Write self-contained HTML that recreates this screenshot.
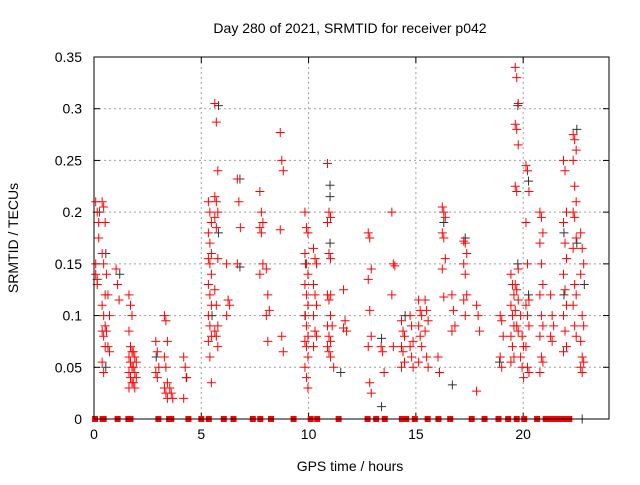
<!DOCTYPE html>
<html><head><meta charset="utf-8"><style>
body{margin:0;background:#fff;}
svg text{font-family:"Liberation Sans",sans-serif;fill:#000;}
</style></head><body>
<svg id="chart" width="640" height="480" viewBox="0 0 640 480" xmlns="http://www.w3.org/2000/svg">
<rect width="640" height="480" fill="#fff"/>
<text x="350" y="33" text-anchor="middle" font-size="14">Day 280 of 2021, SRMTID for receiver p042</text>
<text x="350" y="471" text-anchor="middle" font-size="14">GPS time / hours</text>
<text transform="translate(18,238) rotate(-90)" text-anchor="middle" font-size="14">SRMTID / TECUs</text>
<g id="grid"></g>
<g id="ticks"></g>
<g id="black-series"></g>
<g id="red-series"></g>
<rect x="94" y="57" width="515" height="362" fill="none" stroke="#000" stroke-width="1"/>
</svg>
<script>
const xTicks=[0,5,10,15,20];
const yTicks=[0,0.05,0.1,0.15,0.2,0.25,0.3,0.35];
const yTickLabels=["0","0.05","0.1","0.15","0.2","0.25","0.3","0.35"];
const redCols=[
[0.15,[0.21,0.2,0.19,0.15,0.13,0.175,0.14,0.135]],
[0.45,[0.21,0.205,0.19,0.16,0.15,0.12,0.11,0.1,0.09,0.085,0.08,0.07,0.055,0.045]],
[0.65,[0.14,0.12,0.1,0.085,0.07,0.065]],
[1.1,[0.145,0.13,0.115]],
[1.7,[0.12,0.11,0.1,0.085,0.07,0.065,0.06,0.055,0.05,0.045,0.04,0.035,0.03]],
[1.9,[0.065,0.06,0.055,0.05,0.045,0.04,0.035,0.03]],
[2.95,[0.075,0.065,0.05,0.045,0.04]],
[3.35,[0.1,0.095,0.075,0.06,0.05,0.035,0.03,0.025,0.02]],
[3.6,[0.03,0.025,0.02]],
[4.25,[0.06,0.05,0.04,0.02]],
[5.4,[0.21,0.2,0.19,0.18,0.17,0.16,0.155,0.15,0.14,0.13,0.12,0.11,0.1,0.09,0.08,0.075,0.06,0.035]],
[5.7,[0.305,0.287,0.24,0.215,0.21,0.2,0.195,0.185,0.155,0.125,0.11,0.09,0.085,0.08,0.07]],
[6.25,[0.15,0.115,0.11,0.1]],
[6.75,[0.232,0.21,0.185,0.15]],
[7.8,[0.22,0.2,0.19,0.185,0.18,0.15,0.14]],
[8.1,[0.145,0.12,0.105,0.1,0.075]],
[8.75,[0.277,0.25,0.24,0.183,0.08,0.065]],
[9.9,[0.2,0.185,0.18,0.16,0.15,0.14,0.13,0.12,0.11,0.1,0.09,0.08,0.075,0.07,0.06,0.05,0.04,0.03]],
[10.3,[0.165,0.155,0.15,0.13,0.12,0.11,0.1,0.085,0.08,0.07]],
[10.95,[0.247,0.2,0.195,0.19,0.16,0.155,0.12,0.115,0.1,0.09,0.08,0.075,0.07,0.065,0.06]],
[11.1,[0.12,0.09,0.05]],
[11.7,[0.125,0.095,0.085,0.088]],
[12.85,[0.18,0.175,0.145,0.135,0.105,0.08,0.07,0.035,0.025]],
[13.45,[0.07,0.065,0.045]],
[13.95,[0.2,0.15,0.148,0.12,0.07]],
[14.4,[0.095,0.085,0.08,0.07,0.065,0.055,0.05]],
[14.8,[0.1,0.09,0.075,0.07,0.06,0.05]],
[15.2,[0.115,0.105,0.1,0.09,0.08,0.07,0.055]],
[15.5,[0.115,0.105,0.095,0.085,0.06,0.05]],
[16.1,[0.06,0.045]],
[16.3,[0.205,0.2,0.195,0.18,0.175,0.155,0.145,0.118]],
[16.75,[0.12,0.105,0.09,0.085]],
[17.3,[0.172,0.17,0.16,0.15,0.14,0.12,0.115,0.1]],
[17.9,[0.11,0.1,0.085,0.027]],
[19.0,[0.1,0.095,0.08,0.06,0.05]],
[19.5,[0.14,0.13,0.12,0.11,0.1,0.09,0.08,0.07,0.06,0.055]],
[19.7,[0.34,0.33,0.305,0.285,0.28,0.265,0.225,0.22,0.145,0.13,0.125,0.115,0.105,0.09,0.085]],
[19.95,[0.1,0.08,0.07,0.06,0.05,0.04]],
[20.2,[0.245,0.24,0.22,0.19,0.15,0.115,0.11,0.1,0.09,0.07,0.05,0.045]],
[20.85,[0.2,0.195,0.18,0.17,0.15,0.13,0.12,0.1,0.09,0.08,0.06,0.055,0.045]],
[21.35,[0.12,0.1,0.09,0.08,0.075]],
[21.95,[0.25,0.24,0.2,0.19,0.17,0.155,0.14,0.125,0.11,0.1,0.085,0.07,0.065]],
[22.4,[0.275,0.27,0.26,0.25,0.225,0.21,0.2,0.195,0.175,0.165,0.13,0.12,0.11,0.09,0.08]],
[22.75,[0.18,0.165,0.15,0.14,0.1,0.09,0.075,0.06,0.055,0.05,0.045]]
];
const blackCols=[
[0.25,[0.2]],[0.55,[0.16,0.05]],[1.2,[0.14]],[2.9,[0.06]],[4.3,[0.04]],
[5.5,[0.1]],[5.8,[0.303,0.18]],[6.8,[0.232,0.147]],[9.85,[0.15,0.1]],
[11.0,[0.226,0.215,0.17]],[11.5,[0.045]],[13.4,[0.078,0.012]],
[14.5,[0.1]],[16.3,[0.19]],[16.7,[0.033]],[17.3,[0.175]],[18.9,[0.055]],
[19.75,[0.303,0.15]],[20.25,[0.23,0.12]],[21.9,[0.18,0.12]],[22.5,[0.28,0.17]],[22.85,[0.13]]
];
const zeroHours=[0.05,0.4,0.45,1.1,1.6,1.7,3.0,3.5,3.6,4.4,5.0,5.35,6.05,6.5,7.4,7.75,8.25,9.3,10.1,10.4,11.4,12.75,13.15,13.55,14.35,14.55,14.95,15.55,16.05,16.6,17.6,18.2,18.85,19.3,19.7,20.05,20.65,21.05,21.3,21.55,21.8,22.0,22.15];
const blackZeroHours=[22.75];

const X0=94,X1=609,Y0=419,Y1=57;
const xs=h=>X0+(X1-X0)*h/24;
const ys=v=>Y0-(Y0-Y1)*v/0.35;
const NS="http://www.w3.org/2000/svg";
function mk(tag,attrs,parent){const e=document.createElementNS(NS,tag);for(const k in attrs)e.setAttribute(k,attrs[k]);parent.appendChild(e);return e;}
const grid=document.getElementById('grid'),ticks=document.getElementById('ticks');
xTicks.forEach(t=>{
  const x=xs(t);
  if(t>0){const g=mk('line',{x1:x,x2:x,y1:Y1,y2:Y0,stroke:'#a0a0a0','stroke-dasharray':'2,3'},grid);
  
  }
  mk('line',{x1:x,x2:x,y1:Y0,y2:Y0-6,stroke:'#000'},ticks);
  mk('line',{x1:x,x2:x,y1:Y1,y2:Y1+6,stroke:'#000'},ticks);
  const l=mk('text',{x:x,y:Y0+20,'text-anchor':'middle','font-size':'14'},ticks);
  l.textContent=t;
  
  
});
yTicks.forEach((t,i)=>{
  const y=ys(t);
  if(t>0&&t<0.35){const g=mk('line',{x1:X0,x2:X1,y1:y,y2:y,stroke:'#a0a0a0','stroke-dasharray':'2,3'},grid);
  
  }
  mk('line',{x1:X0,x2:X0+6,y1:y,y2:y,stroke:'#000'},ticks);
  mk('line',{x1:X1,x2:X1-6,y1:y,y2:y,stroke:'#000'},ticks);
  const l=mk('text',{x:X0-12,y:y+5,'text-anchor':'end','font-size':'14'},ticks);
  l.textContent=yTickLabels[i];
  
  
});
function plus(g,h,v,col){
  const x=xs(h),y=ys(v);
  const p=mk('path',{d:`M${x-4.5},${y}H${x+4.5}M${x},${y-4.5}V${y+4.5}`,stroke:col,'stroke-width':1,fill:'none'},g);
  
  
}
function zero(g,h,col){
  const x=xs(h),y=ys(0);
  const r=mk('rect',{x:x-3,y:y-3,width:6,height:6,fill:col},g);
  
  
}
const bg=document.getElementById('black-series'),rg=document.getElementById('red-series');
blackCols.forEach(([h,vals])=>vals.forEach(v=>plus(bg,h,v,'#333')));
blackZeroHours.forEach(h=>plus(bg,h,0,'#333'));
redCols.forEach(([h,vals])=>vals.forEach((v,i)=>plus(rg,h+((i%3)-1)*0.07,v,'#f00')));
zeroHours.forEach(h=>zero(rg,h,'#f00'));
</script>
</body></html>
